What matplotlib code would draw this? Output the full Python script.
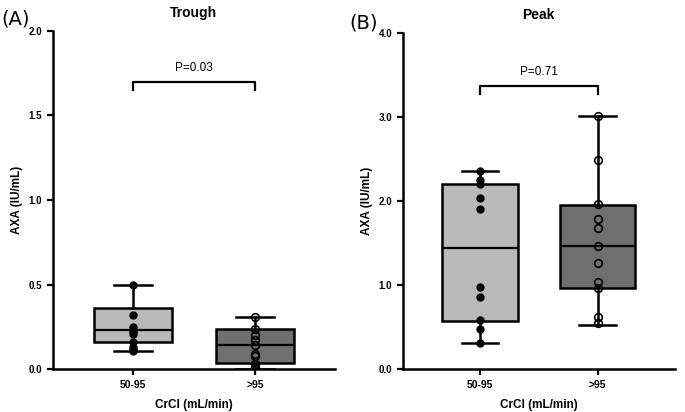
import matplotlib.pyplot as plt

plt.rcParams['font.family'] = ['Liberation Sans', 'DejaVu Sans']

groups = ['50-95', '>95']

trough_low = [0.50, 0.32, 0.25, 0.23, 0.22, 0.21, 0.16, 0.13, 0.12, 0.11]
trough_high = [0.31, 0.24, 0.20, 0.17, 0.14, 0.09, 0.08, 0.03, 0.01, 0.00]
peak_low = [2.36, 2.25, 2.20, 2.04, 1.90, 0.98, 0.86, 0.58, 0.48, 0.31]
peak_high = [3.01, 2.49, 1.96, 1.79, 1.68, 1.46, 1.26, 1.04, 0.96, 0.62, 0.55]

# box summaries as drawn (min, q1, median, q3, max)
trough_box = [(0.11, 0.16, 0.23, 0.36, 0.50), (0.00, 0.035, 0.14, 0.24, 0.31)]
peak_box = [(0.31, 0.57, 1.44, 2.20, 2.36), (0.53, 0.97, 1.46, 1.95, 3.01)]

p_trough = 'P=0.03'
p_peak = 'P=0.71'

fills = ['#b9b9b9', '#6f6f6f']


def panel(ax, boxes, pts, title, ymax, step, pval, bar_y, leg):
    stats = []
    for (lo, q1, med, q3, hi) in boxes:
        stats.append(dict(whislo=lo, q1=q1, med=med, q3=q3, whishi=hi, fliers=[]))
    bp = ax.bxp(stats, positions=[1, 2], widths=0.64, patch_artist=True,
                capwidths=0.31,
                boxprops=dict(linewidth=1.8, edgecolor='black'),
                medianprops=dict(color='black', linewidth=1.6),
                whiskerprops=dict(color='black', linewidth=1.8),
                capprops=dict(color='black', linewidth=1.8))
    for patch, c in zip(bp['boxes'], fills):
        patch.set_facecolor(c)
    ax.plot([1] * len(pts[0]), pts[0], 'o', color='black', ms=5, zorder=5)
    ax.plot([2] * len(pts[1]), pts[1], 'o', mfc='none', mec='black', mew=1.2, ms=5.5, zorder=5)

    # significance bracket
    ax.plot([1, 1, 2, 2], [bar_y - leg, bar_y, bar_y, bar_y - leg], color='black', lw=1.6)
    ax.text(1.5, bar_y + leg * 0.9, pval, ha='center', va='bottom', fontsize=8.5)

    ax.set_xlim(0.344, 2.656)
    ax.set_ylim(0, ymax)
    n = int(round(ymax / step)) + 1
    ax.set_yticks([i * step for i in range(n)])
    ax.set_yticklabels(['%.1f' % (i * step) for i in range(n)])
    ax.set_xticks([1, 2])
    ax.set_xticklabels(groups)
    for s in ['top', 'right']:
        ax.spines[s].set_visible(False)
    for s in ['left', 'bottom']:
        ax.spines[s].set_linewidth(1.8)
    ax.tick_params(width=1.6, length=4, labelsize=7)
    ax.tick_params(axis='x', labelsize=7.5)
    for lab in ax.get_xticklabels() + ax.get_yticklabels():
        lab.set_fontweight('bold')
    ax.set_ylabel('AXA (IU/mL)', fontsize=8.5, fontweight='bold')
    ax.set_xlabel('CrCl (mL/min)', fontsize=8.5, fontweight='bold', labelpad=7)
    ax.set_title(title, fontsize=10, fontweight='bold', pad=10)


fig = plt.figure(figsize=(6.85, 4.12), dpi=100)
ax1 = fig.add_axes([0.077, 0.104, 0.412, 0.821])
ax2 = fig.add_axes([0.588, 0.104, 0.397, 0.816])

panel(ax1, trough_box, [trough_low, trough_high], 'Trough', 2.0, 0.5, p_trough, 1.7, 0.05)
panel(ax2, peak_box, [peak_low, peak_high], 'Peak', 4.0, 1.0, p_peak, 3.37, 0.1)

fig.text(0.002, 0.955, '(A)', fontsize=14, va='center', ha='left', family='DejaVu Sans')
fig.text(0.51, 0.945, '(B)', fontsize=14, va='center', ha='left', family='DejaVu Sans')

fig.savefig('out.png', dpi=100)
